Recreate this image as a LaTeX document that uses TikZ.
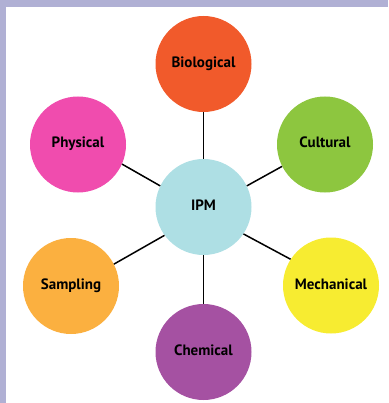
\documentclass[tikz,border=0pt]{standalone}
\usepackage{fontspec}
\setmainfont{PT Sans}
\usetikzlibrary{calc}
\definecolor{frame}{HTML}{B0B0D4}
\definecolor{biocol}{HTML}{F15A2B}
\definecolor{physcol}{HTML}{F04CAE}
\definecolor{cultcol}{HTML}{8DC63F}
\definecolor{ipmcol}{HTML}{AEDFE4}
\definecolor{sampcol}{HTML}{FBB040}
\definecolor{mechcol}{HTML}{F7EC31}
\definecolor{chemcol}{HTML}{A551A2}
\tikzset{bubble/.style={circle, minimum size=96pt, inner sep=0pt, font=\fontsize{15}{15}\selectfont\bfseries, text height=0.7em, text depth=0pt}}

\begin{document}
\begin{tikzpicture}[x=1pt, y=-1pt]
			%%%%% START %%%%%
			
			\useasboundingbox (0, 0) rectangle (388, 403);
			\fill[frame] (0, 0) rectangle (388, 6.7);
			\fill[frame] (0, 0) rectangle (6, 403);
			
			\node[bubble, fill=ipmcol] (ipm) at (203.5, 207) {IPM};
			
			\node[bubble, fill=biocol] (bio) at (203.5, 64) {Biological};
			\node[bubble, fill=physcol] (phys) at (78, 144.5) {Physical};
			\node[bubble, fill=cultcol] (cult) at (325, 144.5) {Cultural};
			\node[bubble, fill=sampcol] (samp) at (71, 286) {Sampling};
			\node[bubble, fill=mechcol] (mech) at (331, 285.5) {Mechanical};
			\node[bubble, fill=chemcol] (chem) at (203.5, 352) {Chemical};
			
			\draw[line width=1.5pt] (ipm.90) -- (bio.270);
			\draw[line width=1.5pt] (ipm.154) -- (phys.-24);
			\draw[line width=1.5pt] (ipm.26) -- (cult.207);
			\draw[line width=1.5pt] (ipm.216) -- (samp.27);
			\draw[line width=1.5pt] (ipm.-34) -- (mech.147);
			\draw[line width=1.5pt] (ipm.270) -- (chem.90);
			
			%%%%% END %%%%%
		\end{tikzpicture}
\end{document}
